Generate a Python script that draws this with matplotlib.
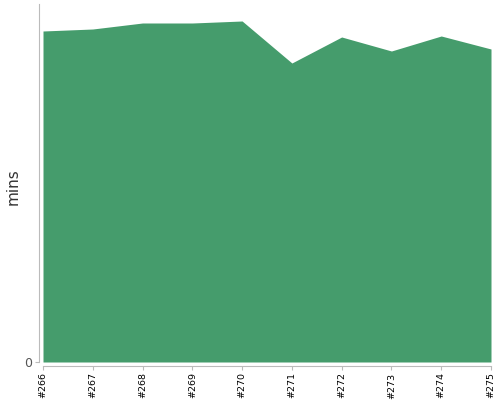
import matplotlib
matplotlib.use("Agg")
import matplotlib.pyplot as plt

builds = ["#266", "#267", "#268", "#269", "#270", "#271", "#272", "#273", "#274", "#275"]
mins = [33.1, 33.3, 33.9, 33.9, 34.1, 29.9, 32.5, 31.1, 32.6, 31.3]

fig = plt.figure(figsize=(5, 4), dpi=100)
ax = fig.add_axes([0.086, 0.095, 0.896, 0.895])
x = list(range(len(builds)))
ax.fill_between(x, mins, 0, color="#459c6c", linewidth=0)
ax.set_xlim(0, len(builds) - 1)
ax.set_ylim(0, 35.8)
ax.set_xticks(x)
ax.set_xticklabels(builds)
ax.set_yticks([0])
ax.set_yticklabels(["0"])
ax.set_ylabel("mins", fontsize=11, color="#333333")
ax.yaxis.set_label_coords(-0.05, 0.49)
for s in ["top", "right"]:
    ax.spines[s].set_visible(False)
for s in ["left", "bottom"]:
    ax.spines[s].set_color("#bbbbbb")
    ax.spines[s].set_position(("outward", 3))
ax.tick_params(axis="both", color="#bbbbbb", length=3, width=0.8)
ax.tick_params(axis="x", labelrotation=90, labelsize=6.8, labelcolor="black", pad=1.5)
ax.tick_params(axis="y", labelsize=9, labelcolor="#555555", pad=2)
fig.savefig("out.png", dpi=100)
